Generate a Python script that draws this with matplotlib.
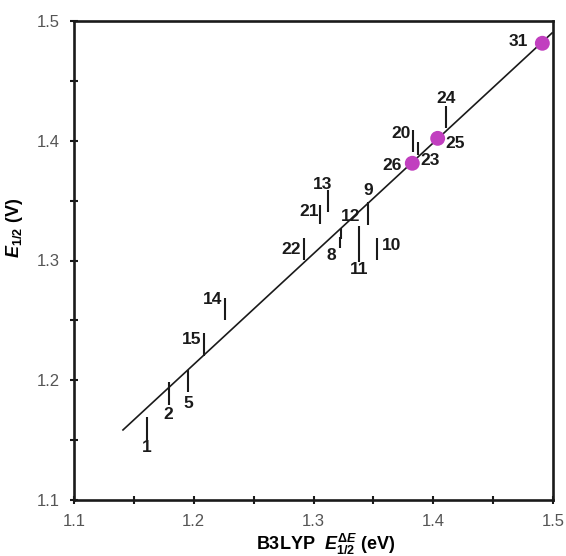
import numpy as np
import matplotlib
matplotlib.use("Agg")
import matplotlib.pyplot as plt
from matplotlib.ticker import MultipleLocator

# compounds drawn as vertical bars (range of E1/2 values)
bar_ids = ["1", "2", "5", "15", "14", "22", "21", "13", "12", "8", "9", "11", "10", "20", "23", "24"]
bar_x = [1.1612, 1.1793, 1.1954, 1.2088, 1.2261, 1.2921, 1.3054, 1.3117, 1.3230, 1.3225,
         1.3455, 1.3380, 1.3534, 1.3833, 1.3870, 1.4106]
bar_top = [1.1691, 1.1988, 1.2086, 1.2395, 1.2684, 1.3185, 1.3463, 1.3589, 1.3271, 1.3200,
           1.3491, 1.3288, 1.3185, 1.4090, 1.3992, 1.4290]
bar_bot = [1.1501, 1.1793, 1.1904, 1.2203, 1.2503, 1.3004, 1.3305, 1.3408, 1.3180, 1.3104,
           1.3296, 1.2990, 1.3004, 1.3909, 1.3881, 1.4104]

# compounds drawn as dots
dot_ids = ["26", "25", "31"]
dot_x = [1.3825, 1.4037, 1.4911]
dot_y = [1.3812, 1.4020, 1.4814]

# regression line end points
fit_x = [1.1409, 1.4992]
fit_y = [1.1585, 1.4900]

x_ticks = [1.1, 1.2, 1.3, 1.4, 1.5]
y_ticks = [1.1, 1.2, 1.3, 1.4, 1.5]

# label offsets in pixels (layout only)
bar_offsets = {"1": (-1, -19), "2": (-1, -21), "5": (0, -23), "15": (-13, 5), "14": (-12, 10),
               "22": (-13, 0), "21": (-11, 3), "13": (-5, 16), "12": (10, 17), "8": (-9, -13),
               "9": (0, 23), "11": (0, -26), "10": (14, 4), "20": (-12, 7), "23": (12, -12),
               "24": (0, 19)}
dot_offsets = {"26": (-20, -2), "25": (17, -5), "31": (-24, 2)}

plt.rcParams['font.family'] = ['Liberation Sans', 'DejaVu Sans']
plt.rcParams['mathtext.fontset'] = 'custom'
plt.rcParams['mathtext.it'] = 'Liberation Sans:bold:italic'
plt.rcParams['mathtext.rm'] = 'Liberation Sans:bold'
plt.rcParams['mathtext.bf'] = 'Liberation Sans:bold'

fig = plt.figure(figsize=(5.66, 5.56), dpi=100)
ax = fig.add_axes([74 / 566, 1 - 500 / 556, 479 / 566, 479 / 556])

ax.plot(fit_x, fit_y, color='#1a1a1a', lw=1.2, zorder=2)
ax.vlines(bar_x, bar_bot, bar_top, color='#1a1a1a', lw=1.5, zorder=3)
ax.scatter(dot_x, dot_y, s=115, color='#c13fbf', edgecolors='none', zorder=4)

for i, name in enumerate(bar_ids):
    mid = (bar_top[i] + bar_bot[i]) / 2
    ax.annotate(name, (bar_x[i], mid), xytext=bar_offsets[name], textcoords='offset pixels',
                ha='center', va='center', fontsize=12.5, fontweight='bold', color='#1a1a1a')
for i, name in enumerate(dot_ids):
    ax.annotate(name, (dot_x[i], dot_y[i]), xytext=dot_offsets[name], textcoords='offset pixels',
                ha='center', va='center', fontsize=12.5, fontweight='bold', color='#1a1a1a')

ax.set_xlim(1.1, 1.5)
ax.set_ylim(1.1, 1.5)
ax.set_xticks(x_ticks)
ax.set_yticks(y_ticks)
ax.set_xticklabels([f"{t:.1f}" for t in x_ticks])
ax.set_yticklabels([f"{t:.1f}" for t in y_ticks])
ax.xaxis.set_minor_locator(MultipleLocator(0.05))
ax.yaxis.set_minor_locator(MultipleLocator(0.05))
ax.tick_params(which='both', direction='inout', length=6, width=1.5, color='#1a1a1a',
               top=False, right=False)
ax.tick_params(axis='x', which='major', pad=7, labelsize=12, labelcolor='#555555')
ax.tick_params(axis='y', which='major', pad=7, labelsize=12, labelcolor='#555555')

for sp in ax.spines.values():
    sp.set_linewidth(1.9)
    sp.set_color('#1a1a1a')

ax.set_xlabel(r"B3LYP  $E_{1/2}^{\Delta E}$ (eV)", fontsize=13, fontweight='bold')
ax.set_ylabel(r"$E_{1/2}$ (V)", fontsize=13, fontweight='bold')
ax.xaxis.label.set_va('center')
ax.yaxis.label.set_va('center')
ax.xaxis.set_label_coords(0.526, -0.092)
ax.yaxis.set_label_coords(-0.125, 0.568)

fig.savefig("out.png", dpi=100)
